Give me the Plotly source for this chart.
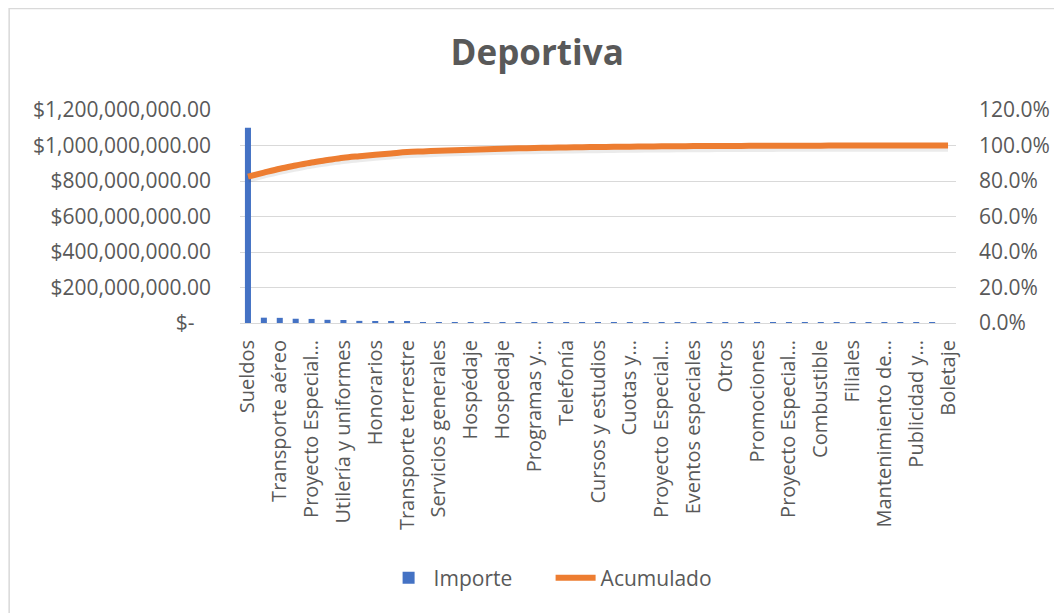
import numpy as np
import plotly.graph_objects as go

# ---- data ----
tick_labels = ["Sueldos", "Transporte aéreo", "Proyecto Especial…", "Utilería y uniformes",
               "Honorarios", "Transporte terrestre", "Servicios generales", "Hospédaje",
               "Hospedaje", "Programas y…", "Telefonía", "Cursos y estudios", "Cuotas y…",
               "Proyecto Especial…", "Eventos especiales", "Otros", "Promociones",
               "Proyecto Especial…", "Combustible", "Filiales", "Mantenimiento de…",
               "Publicidad y…", "Boletaje"]

importe = [1100e6, 30e6, 29e6, 24e6, 23e6, 18e6, 17e6, 12e6, 11e6, 10e6,
           10e6, 5e6, 5e6, 4e6, 4e6, 4e6, 3e6, 3e6, 2.5e6, 2e6,
           2e6, 1.8e6, 1.6e6, 1.5e6, 1.3e6, 1.2e6, 1.0e6, 0.9e6, 0.8e6, 0.7e6,
           0.6e6, 0.5e6, 0.5e6, 0.4e6, 0.4e6, 0.3e6, 0.3e6, 0.25e6, 0.2e6, 0.15e6,
           0.12e6, 0.1e6, 0.08e6, 0.05e6, 0.02e6]

left_ticks = [0, 200e6, 400e6, 600e6, 800e6, 1000e6, 1200e6]
left_ticktext = ["$-\u00a0\u00a0\u00a0", "$200,000,000.00", "$400,000,000.00", "$600,000,000.00",
                 "$800,000,000.00", "$1,000,000,000.00", "$1,200,000,000.00"]

x = list(range(len(importe)))
acumulado = np.cumsum(importe) / np.sum(importe)
label_positions = x[::2]

FONT = "Open Sans"
GRAY = "#595959"

# page body has an 8px margin, so figure coords = screen coords - 8
W, H = 1054, 605
PL, PR, PT, PB = 232, 950, 102, 315
pw, ph = PR - PL, PB - PT

def px_x(px):
    return (px - PL) / pw

def px_y(py):
    return (PB - py) / ph

fig = go.Figure()
fig.add_trace(go.Bar(x=x, y=importe, name="Importe", marker_color="#4472C4",
                     marker_line_width=0, width=0.38, yaxis="y"))
fig.add_trace(go.Scatter(x=x, y=acumulado - 0.012, mode="lines", showlegend=False,
                         hoverinfo="skip", line=dict(color="rgba(0,0,0,0.08)", width=8, shape="spline"),
                         yaxis="y2"))
fig.add_trace(go.Scatter(x=x, y=acumulado, mode="lines", name="Acumulado",
                         line=dict(color="#ED7D31", width=6, shape="spline"), yaxis="y2"))

fig.update_layout(
    width=W, height=H,
    margin=dict(l=PL, r=W - PR, t=PT, b=H - PB),
    paper_bgcolor="white", plot_bgcolor="white",
    font=dict(family=FONT, size=21, color=GRAY),
    title=dict(text="<b>Deportiva</b>", x=px_x(530), xref="paper", xanchor="center",
               y=1 - 45 / H, yref="container", yanchor="middle",
               font=dict(family=FONT, size=35, color=GRAY)),
    showlegend=True,
    legend=dict(orientation="h", x=px_x(376), xanchor="left", y=px_y(570),
                yanchor="middle", font=dict(size=21, color=GRAY), itemwidth=40,
                entrywidth=112, entrywidthmode="pixels", traceorder="normal"),
    xaxis=dict(range=[-0.5, len(importe) - 0.5], tickmode="array",
               tickvals=label_positions, ticktext=tick_labels, tickangle=-90,
               showgrid=False, showline=True, linecolor="#D9D9D9", linewidth=1,
               ticks="", ticklabelstandoff=8, tickfont=dict(size=20, color=GRAY),
               zeroline=False),
    yaxis=dict(range=[0, 1.2e9], tickmode="array", tickvals=left_ticks,
               ticktext=left_ticktext, showgrid=True, gridcolor="#D9D9D9",
               gridwidth=1, zeroline=False, showline=False, ticks="",
               ticklabelstandoff=28, tickfont=dict(size=21, color=GRAY)),
    yaxis2=dict(range=[0, 1.2], overlaying="y", side="right", tickformat=".1%",
                dtick=0.2, showgrid=False, zeroline=False, showline=False, ticks="",
                ticklabelstandoff=22, tickfont=dict(size=21, color=GRAY)),
    bargap=0.6,
)

fig.add_shape(type="rect", xref="paper", yref="paper",
              x0=px_x(0.5), x1=px_x(W + 10),
              y0=px_y(H + 10), y1=px_y(0.5),
              line=dict(color="#D9D9D9", width=1.5), fillcolor="rgba(0,0,0,0)", layer="below")

fig.write_html("out.html")
